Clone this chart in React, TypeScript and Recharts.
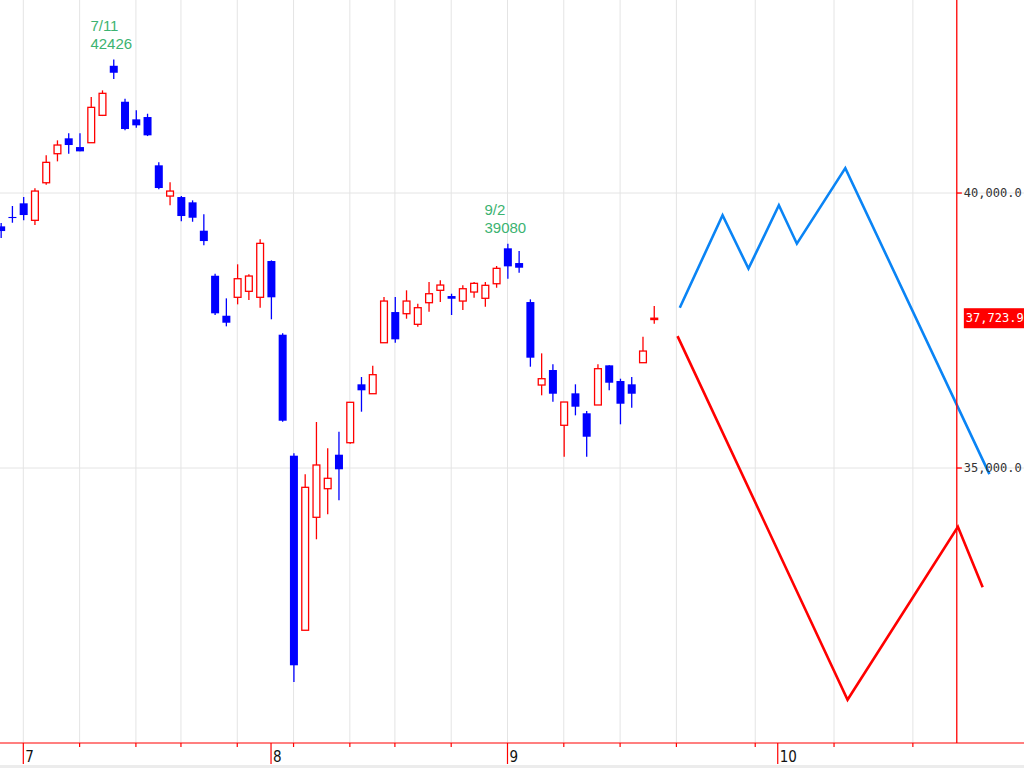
import React from "react";
import {
  ComposedChart,
  Bar,
  Line,
  Scatter,
  XAxis,
  YAxis,
  CartesianGrid,
  ReferenceLine,
} from "recharts";

// daily candles, 6/27 .. 9/20 (trading days only)
const dates = [
  "6/27", "6/28", "7/1", "7/2", "7/3", "7/4", "7/5", "7/8", "7/9", "7/10",
  "7/11", "7/12", "7/16", "7/17", "7/18", "7/19", "7/22", "7/23", "7/24", "7/25",
  "7/26", "7/29", "7/30", "7/31", "8/1", "8/2", "8/5", "8/6", "8/7", "8/8",
  "8/9", "8/13", "8/14", "8/15", "8/16", "8/19", "8/20", "8/21", "8/22", "8/23",
  "8/26", "8/27", "8/28", "8/29", "8/30", "9/2", "9/3", "9/4", "9/5", "9/6",
  "9/9", "9/10", "9/11", "9/12", "9/13", "9/17", "9/18", "9/19", "9/20",
];
const opens = [
  39394, 39565, 39813, 39504, 40187, 40715, 40995, 40836, 40915, 41413,
  42314, 41660, 41340, 41382, 40504, 39945, 39927, 39831, 39315, 38496,
  37769, 38104, 38213, 38104, 38764, 37424, 35224, 32050, 34104, 34624,
  35242, 35460, 36522, 36351, 37278, 37836, 37806, 37613, 38006, 38231,
  38127, 38036, 38200, 38086, 38351, 38995, 38727, 38018, 36509, 36782,
  35777, 36358, 35995, 36146, 36867, 36582, 36522, 36915, 37700,
];
const highs = [
  39455, 39764, 39927, 40085, 40685, 40958, 41085, 41085, 41745, 41867,
  42426, 41715, 41504, 41442, 40558, 40195, 39945, 39867, 39613, 38533,
  38085, 38704, 38522, 39158, 38776, 37449, 35268, 34886, 35837, 35359,
  35660, 36195, 36655, 36860, 38109, 38109, 38231, 37987, 38382, 38413,
  38169, 38322, 38382, 38382, 38673, 39080, 38945, 38067, 37085, 36886,
  36200, 36522, 36036, 36886, 36867, 36624, 36655, 37387, 37946,
];
const lows = [
  39182, 39460, 39504, 39418, 40151, 40576, 40715, 40758, 40915, 41400,
  42073, 41140, 41187, 41036, 40067, 39776, 39485, 39478, 39049, 37782,
  37576, 37976, 38055, 37915, 37704, 35842, 31110, 32050, 33704, 34158,
  34413, 35442, 36024, 36351, 37278, 37278, 37715, 37569, 37842, 38018,
  37782, 37873, 38096, 37933, 38278, 38442, 38551, 36842, 36322, 36206,
  35206, 35958, 35206, 36146, 36413, 35795, 36097, 36915, 37624,
];
const closes = [
  39309, 39545, 39600, 40036, 40558, 40873, 40873, 40758, 41558, 41813,
  42187, 41164, 41231, 41049, 40091, 40036, 39582, 39551, 39127, 37813,
  37642, 38442, 38491, 39085, 38104, 35860, 31413, 34649, 35055, 34813,
  34977, 36195, 36413, 36697, 38036, 37340, 38036, 37915, 38169, 38327,
  38078, 38260, 38358, 38322, 38631, 38667, 38642, 37006, 36624, 36351,
  36200, 36115, 35569, 36806, 36551, 36169, 36351, 37127, 37724,
];

// slot 0 = 7/1; after 9/20 the axis runs on calendar days
const FIRST_SLOT = -2;

// projection lines
const blueX = [58.3, 62.1, 64.4, 67.1, 68.7, 73.0, 85.8];
const blueV = [37915, 39596, 38626, 39777, 39079, 40453, 34888];
const redX = [58.1, 73.2, 83.0, 85.2];
const redV = [37399, 30787, 33933, 32831];

const weekSlots = [0, 5, 10, 14, 19, 24, 29, 33, 38, 43, 48, 53, 58, 65, 72, 79];
const monthSlots = [0, 22, 43, 67];
const monthLabels = ["7", "8", "9", "10"];
const priceTicks = [35000, 40000];
const lastPrice = 37723.9;
const peakDates = ["7/11", "9/2"];

const X_DOMAIN = [-2.07, 88.87];
const Y_DOMAIN = [30000, 43510];
const PRICE_AXIS_SLOT = 82.9;

const UP = "#ff0000";
const DOWN = "#0000ff";
const AXIS_RED = "#ff0000";
const GRID = "#e4e4e4";

const candles = dates.map((d, i) => ({
  x: FIRST_SLOT + i,
  date: d,
  open: opens[i],
  high: highs[i],
  low: lows[i],
  close: closes[i],
  range: [lows[i], highs[i]],
}));
const blueLine = blueX.map((x, i) => ({ x, v: blueV[i] }));
const redLine = redX.map((x, i) => ({ x, v: redV[i] }));
const peaks = peakDates.map((d) => {
  const i = dates.indexOf(d);
  return { x: FIRST_SLOT + i, y: highs[i], date: d };
});
const xTicks = Array.from(new Set([...weekSlots, ...monthSlots])).sort((a, b) => a - b);

const fmt = (v: number) =>
  v.toLocaleString("en-US", { minimumFractionDigits: 1, maximumFractionDigits: 1 });

function Candle(props: any) {
  const { x, y, width, height, payload } = props;
  if (payload == null || x == null) return null;
  const { open, close, high, low } = payload;
  const up = close >= open;
  const color = up ? UP : DOWN;
  const top0 = Math.min(y, y + height);
  const h = Math.abs(height);
  const span = high - low || 1;
  const py = (v: number) => top0 + ((high - v) / span) * h;
  const cx = x + width / 2;
  const bTop = py(Math.max(open, close));
  const bBot = py(Math.min(open, close));
  const bh = Math.max(bBot - bTop, 1);
  return (
    <g>
      <line x1={cx} x2={cx} y1={top0} y2={top0 + h} stroke={color} strokeWidth={1.3} />
      {up ? (
        <rect x={x + 0.6} y={bTop} width={width - 1.2} height={bh} fill="#ffffff" stroke={color} strokeWidth={1.3} />
      ) : (
        <rect x={x} y={bTop} width={width} height={bh} fill={color} />
      )}
    </g>
  );
}

function DayTick(props: any) {
  const { x, y, payload } = props;
  const m = monthSlots.indexOf(payload.value);
  if (m >= 0) {
    return (
      <g>
        <line x1={x} x2={x} y1={y} y2={y + 21} stroke={AXIS_RED} strokeWidth={1.2} />
        <text x={x + 2} y={y + 19} fill="#111" fontSize={15}
          fontFamily="'Liberation Sans Narrow', 'DejaVu Sans Condensed', sans-serif">
          {monthLabels[m]}
        </text>
      </g>
    );
  }
  return <line x1={x} x2={x} y1={y} y2={y + 4} stroke={AXIS_RED} strokeWidth={1.2} />;
}

function PeakLabel(props: any) {
  const { cx, cy, payload } = props;
  if (cx == null || cy == null) return null;
  return (
    <g fill="#3cb371" fontSize={15} fontFamily="'Liberation Sans', Arial, sans-serif">
      <text x={cx - 23} y={cy - 29}>{payload.date}</text>
      <text x={cx - 23} y={cy - 11}>{Math.round(payload.y)}</text>
    </g>
  );
}

function PriceText({ viewBox, text }: any) {
  if (!viewBox) return null;
  return (
    <text x={viewBox.x + viewBox.width + 2} y={viewBox.y} dy="0.35em" fill="#333"
      fontSize={12} fontFamily="'DejaVu Sans Mono', monospace">
      {text}
    </text>
  );
}

function PriceBadge({ viewBox, text }: any) {
  if (!viewBox) return null;
  const x = viewBox.x + viewBox.width + 2;
  return (
    <g>
      <rect x={x} y={viewBox.y - 10} width={70} height={20} fill={AXIS_RED} />
      <text x={x + 2} y={viewBox.y} dy="0.35em" fill="#ffffff"
        fontSize={12} fontFamily="'DejaVu Sans Mono', monospace">
        {text}
      </text>
    </g>
  );
}

export default function App() {
  return (
    <div style={{ position: "absolute", left: 0, top: 0, width: 1024, height: 768, background: "#fff", overflow: "hidden" }}>
      <div style={{ position: "absolute", left: 0, top: 765, width: 1024, height: 3, background: "#ececec" }} />
      <div style={{ position: "absolute", left: 0, top: 0 }}>
        <ComposedChart width={1024} height={768} data={candles} margin={{ top: 0, right: 0, bottom: 0, left: 0 }}>
          <XAxis
            xAxisId="c"
            dataKey="x"
            type="number"
            domain={X_DOMAIN}
            allowDataOverflow
            ticks={xTicks}
            interval={0}
            height={25}
            tickSize={0}
            tickMargin={0}
            tickLine={false}
            axisLine={{ stroke: AXIS_RED, strokeWidth: 1.2 }}
            tick={<DayTick />}
          />
          <XAxis xAxisId="l" dataKey="x" type="number" domain={X_DOMAIN} allowDataOverflow hide />
          <YAxis yAxisId="p" dataKey="y" type="number" domain={Y_DOMAIN} allowDataOverflow hide />
          <CartesianGrid
            xAxisId="c"
            yAxisId="p"
            stroke={GRID}
            verticalValues={weekSlots}
            horizontalValues={priceTicks}
          />
          <Bar
            xAxisId="c"
            yAxisId="p"
            dataKey="range"
            barSize={8}
            shape={<Candle />}
            isAnimationActive={false}
          />
          <Line
            xAxisId="l"
            yAxisId="p"
            data={blueLine}
            dataKey="v"
            type="linear"
            stroke="#0a84f5"
            strokeWidth={2.6}
            dot={false}
            activeDot={false}
            legendType="none"
            isAnimationActive={false}
          />
          <Line
            xAxisId="l"
            yAxisId="p"
            data={redLine}
            dataKey="v"
            type="linear"
            stroke="#ff0000"
            strokeWidth={2.6}
            dot={false}
            activeDot={false}
            legendType="none"
            isAnimationActive={false}
          />
          <Scatter
            xAxisId="l"
            yAxisId="p"
            data={peaks}
            dataKey="y"
            shape={<PeakLabel />}
            isAnimationActive={false}
          />
          <ReferenceLine xAxisId="c" yAxisId="p" x={PRICE_AXIS_SLOT} stroke={AXIS_RED} strokeWidth={1.3} />
          {priceTicks.map((v) => (
            <ReferenceLine
              key={v}
              xAxisId="c"
              yAxisId="p"
              segment={[{ x: PRICE_AXIS_SLOT, y: v }, { x: PRICE_AXIS_SLOT + 0.45, y: v }]}
              stroke={AXIS_RED}
              strokeWidth={1.3}
              label={(p: any) => <PriceText viewBox={p.viewBox} text={fmt(v)} />}
            />
          ))}
          <ReferenceLine
            xAxisId="c"
            yAxisId="p"
            segment={[{ x: PRICE_AXIS_SLOT, y: lastPrice }, { x: PRICE_AXIS_SLOT + 0.45, y: lastPrice }]}
            stroke="none"
            label={(p: any) => <PriceBadge viewBox={p.viewBox} text={fmt(lastPrice)} />}
          />
        </ComposedChart>
      </div>
    </div>
  );
}
